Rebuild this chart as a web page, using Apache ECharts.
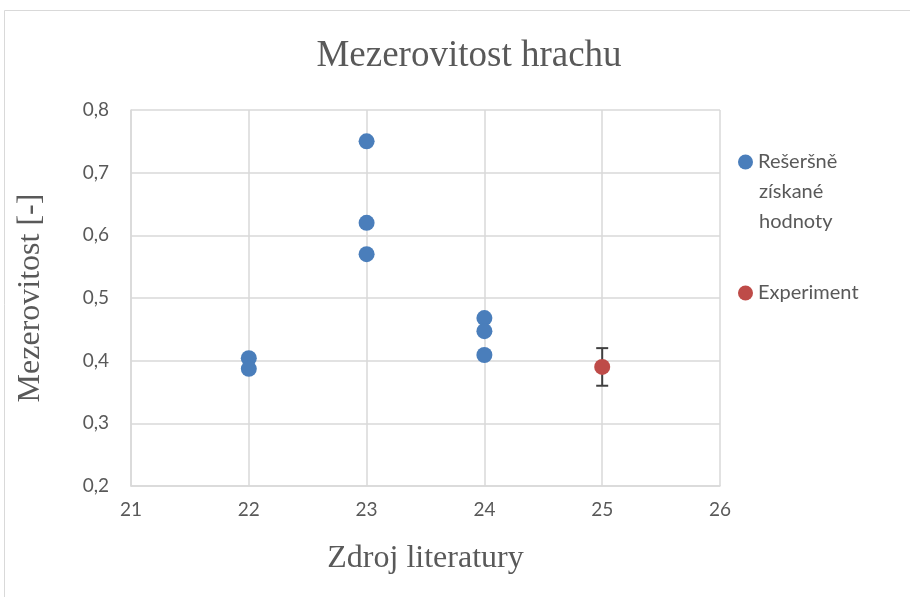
<!DOCTYPE html>
<html>
<head>
<meta charset="utf-8">
<script src="https://cdn.jsdelivr.net/npm/echarts@6/dist/echarts.min.js"></script>
<style>
  html, body { margin: 0; padding: 0; background: #fff; }
  #chart { width: 910px; height: 597px; }
</style>
</head>
<body>
<div id="chart"></div>
<script>
// rešeršní hodnoty [zdroj, mezerovitost]
const resersneX = [22, 22, 23, 23, 23, 24, 24, 24];
const resersneY = [0.404, 0.387, 0.75, 0.62, 0.57, 0.468, 0.447, 0.409];
// experiment
const experimentX = [25];
const experimentY = [0.39];
const experimentErr = [0.03];

const names = ["Rešeršně získané hodnoty", "Experiment"];

const grey = "#595959";
const gridColor = "#d9d9d9";
const serif = "'Liberation Serif', 'DejaVu Serif', serif";
const sans = "Lato, 'Open Sans', sans-serif";

let chart = echarts.init(document.getElementById("chart"));

let option = {
  backgroundColor: "#fff",
  animation: false,
  title: {
    text: "Mezerovitost hrachu",
    left: 464,
    textAlign: "center",
    top: 33,
    textStyle: {
      fontFamily: serif,
      fontWeight: "normal",
      fontSize: 37,
      color: grey
    }
  },
  graphic: [
    {
      type: "rect",
      shape: { x: 4.5, y: 10.5, width: 1200, height: 1200 },
      style: { fill: "none", stroke: gridColor, lineWidth: 1 },
      silent: true,
      z: -10
    },
    {
      // zbytek víceřádkové položky legendy
      type: "text",
      left: 759,
      top: 177,
      style: {
        text: "získané\nhodnoty",
        fontFamily: sans,
        fontSize: 20,
        lineHeight: 30,
        fill: grey
      }
    }
  ],
  legend: [
    {
      data: [names[0]],
      left: 733,
      top: 147,
      itemWidth: 15,
      itemHeight: 15,
      icon: "circle",
      formatter: function () {
        return "Rešeršně";
      },
      textStyle: {
        fontFamily: sans,
        fontSize: 20,
        color: grey
      }
    },
    {
      data: [names[1]],
      left: 733,
      top: 278,
      itemWidth: 15,
      itemHeight: 15,
      icon: "circle",
      textStyle: {
        fontFamily: sans,
        fontSize: 20,
        color: grey
      }
    }
  ],
  grid: {
    left: 131,
    right: 190,
    top: 110,
    bottom: 111
  },
  xAxis: {
    type: "value",
    min: 21,
    max: 26,
    interval: 1,
    name: "Zdroj literatury",
    nameLocation: "middle",
    nameGap: 57,
    nameTextStyle: {
      fontFamily: serif,
      fontSize: 32,
      color: grey
    },
    axisLine: { show: true, lineStyle: { color: gridColor, width: 1.5 } },
    axisTick: { show: false },
    axisLabel: {
      margin: 14,
      fontFamily: sans,
      fontSize: 19,
      color: grey
    },
    splitLine: { show: true, lineStyle: { color: gridColor, width: 1.5 } }
  },
  yAxis: {
    type: "value",
    min: 0.2,
    max: 0.8,
    interval: 0.1,
    name: "Mezerovitost [-]",
    nameLocation: "middle",
    nameGap: 84,
    nameTextStyle: {
      fontFamily: serif,
      fontSize: 32,
      color: grey
    },
    axisLine: { show: true, lineStyle: { color: gridColor, width: 1.5 } },
    axisTick: { show: false },
    axisLabel: {
      margin: 22,
      fontFamily: sans,
      fontSize: 19,
      color: grey,
      formatter: function (v) {
        return v.toFixed(1).replace(".", ",");
      }
    },
    splitLine: { show: true, lineStyle: { color: gridColor, width: 1.5 } }
  },
  series: [
    {
      name: names[0],
      type: "scatter",
      symbol: "circle",
      symbolSize: 16,
      itemStyle: { color: "#4a7ebb", opacity: 1 },
      data: resersneX.map((x, i) => [x, resersneY[i]]),
      z: 3
    },
    {
      name: names[1],
      type: "scatter",
      symbol: "circle",
      symbolSize: 16,
      itemStyle: { color: "#be4b48", opacity: 1 },
      data: experimentX.map((x, i) => [x, experimentY[i]]),
      z: 4
    },
    {
      // chybová úsečka
      name: "errorbar",
      type: "custom",
      z: 3,
      silent: true,
      data: experimentX.map((x, i) => [x, experimentY[i] - experimentErr[i], experimentY[i] + experimentErr[i]]),
      renderItem: function (params, api) {
        let lo = api.coord([api.value(0), api.value(1)]);
        let hi = api.coord([api.value(0), api.value(2)]);
        let w = 6;
        let style = { stroke: "#404040", lineWidth: 2 };
        return {
          type: "group",
          children: [
            { type: "line", shape: { x1: lo[0], y1: lo[1], x2: hi[0], y2: hi[1] }, style: style },
            { type: "line", shape: { x1: lo[0] - w, y1: lo[1], x2: lo[0] + w, y2: lo[1] }, style: style },
            { type: "line", shape: { x1: hi[0] - w, y1: hi[1], x2: hi[0] + w, y2: hi[1] }, style: style }
          ]
        };
      }
    }
  ]
};

chart.setOption(option);
</script>
</body>
</html>
